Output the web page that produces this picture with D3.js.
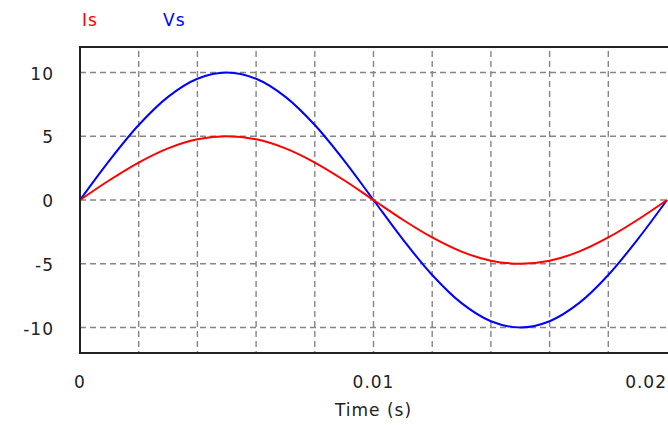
<!DOCTYPE html>
<html>
<head>
<meta charset="utf-8">
<script src="https://cdn.jsdelivr.net/npm/d3@7"></script>
<style>
  body { margin: 0; background: #fff; }
  svg { display: block; font-family: "DejaVu Sans", Verdana, sans-serif; }
</style>
</head>
<body>
<svg id="chart" width="668" height="425"></svg>
<script>
const time = [0, 0.001, 0.002, 0.003, 0.004, 0.005, 0.006, 0.007, 0.008, 0.009, 0.01,
              0.011, 0.012, 0.013, 0.014, 0.015, 0.016, 0.017, 0.018, 0.019, 0.02];
const vs = [0, 3.09, 5.88, 8.09, 9.51, 10, 9.51, 8.09, 5.88, 3.09, 0,
            -3.09, -5.88, -8.09, -9.51, -10, -9.51, -8.09, -5.88, -3.09, 0];
const is = [0, 1.55, 2.94, 4.05, 4.76, 5, 4.76, 4.05, 2.94, 1.55, 0,
            -1.55, -2.94, -4.05, -4.76, -5, -4.76, -4.05, -2.94, -1.55, 0];
const yTicks = [-10, -5, 0, 5, 10];
const xTicks = [0, 0.01, 0.02];
const xGrid = [0.002, 0.004, 0.006, 0.008, 0.01, 0.012, 0.014, 0.016, 0.018];

const svg = d3.select("#chart");
const m = {left: 80, right: 667, top: 47, bottom: 353};

const x = d3.scaleLinear().domain([0, 0.02]).range([m.left, m.right]);
const y = d3.scaleLinear().domain([-12, 12]).range([m.bottom, m.top]);

// grid
const grid = svg.append("g")
    .attr("stroke", "#858585")
    .attr("stroke-width", 1.4)
    .attr("stroke-dasharray", "6,4");
grid.selectAll(".hg").data(yTicks).enter().append("line")
    .attr("x1", m.left).attr("x2", m.right)
    .attr("y1", d => y(d)).attr("y2", d => y(d));
grid.selectAll(".vg").data(xGrid).enter().append("line")
    .attr("x1", d => x(d)).attr("x2", d => x(d))
    .attr("y1", m.top + 4).attr("y2", m.bottom);

// curves
const line = d3.line()
    .x((d, i) => x(time[i]))
    .y(d => y(d))
    .curve(d3.curveCatmullRom);

svg.append("path").datum(vs)
    .attr("fill", "none").attr("stroke", "#0000ff").attr("stroke-width", 2)
    .attr("d", line);
svg.append("path").datum(is)
    .attr("fill", "none").attr("stroke", "#ff0000").attr("stroke-width", 2)
    .attr("d", line);

// frame
svg.append("path")
    .attr("fill", "none").attr("stroke", "#222").attr("stroke-width", 2)
    .attr("d", `M${m.right + 2},${m.top}H${m.left}V${m.bottom}H${m.right + 2}`);

const txt = sel => sel
    .attr("font-size", 17)
    .attr("letter-spacing", 1)
    .attr("fill", "#222");

// y axis labels
svg.selectAll(".yl").data(yTicks).enter().append("text")
    .attr("x", 54).attr("y", d => y(d) + 7)
    .attr("text-anchor", "end")
    .call(txt)
    .text(d => d);

// x axis labels
svg.selectAll(".xl").data(xTicks).enter().append("text")
    .attr("x", (d, i) => i === xTicks.length - 1 ? 667 : x(d))
    .attr("y", 388)
    .attr("text-anchor", (d, i) => i === xTicks.length - 1 ? "end" : "middle")
    .call(txt)
    .text(d => d);

svg.append("text")
    .attr("x", x(0.01)).attr("y", 416)
    .attr("text-anchor", "middle")
    .call(txt)
    .text("Time (s)");

// legend
const legendNames = ["Is", "Vs"];
const legendColors = ["#ff0000", "#0000ff"];
svg.selectAll(".lg").data(legendNames).enter().append("text")
    .attr("x", (d, i) => 82 + i * 81).attr("y", 26)
    .call(txt)
    .attr("fill", (d, i) => legendColors[i])
    .text(d => d);
</script>
</body>
</html>
